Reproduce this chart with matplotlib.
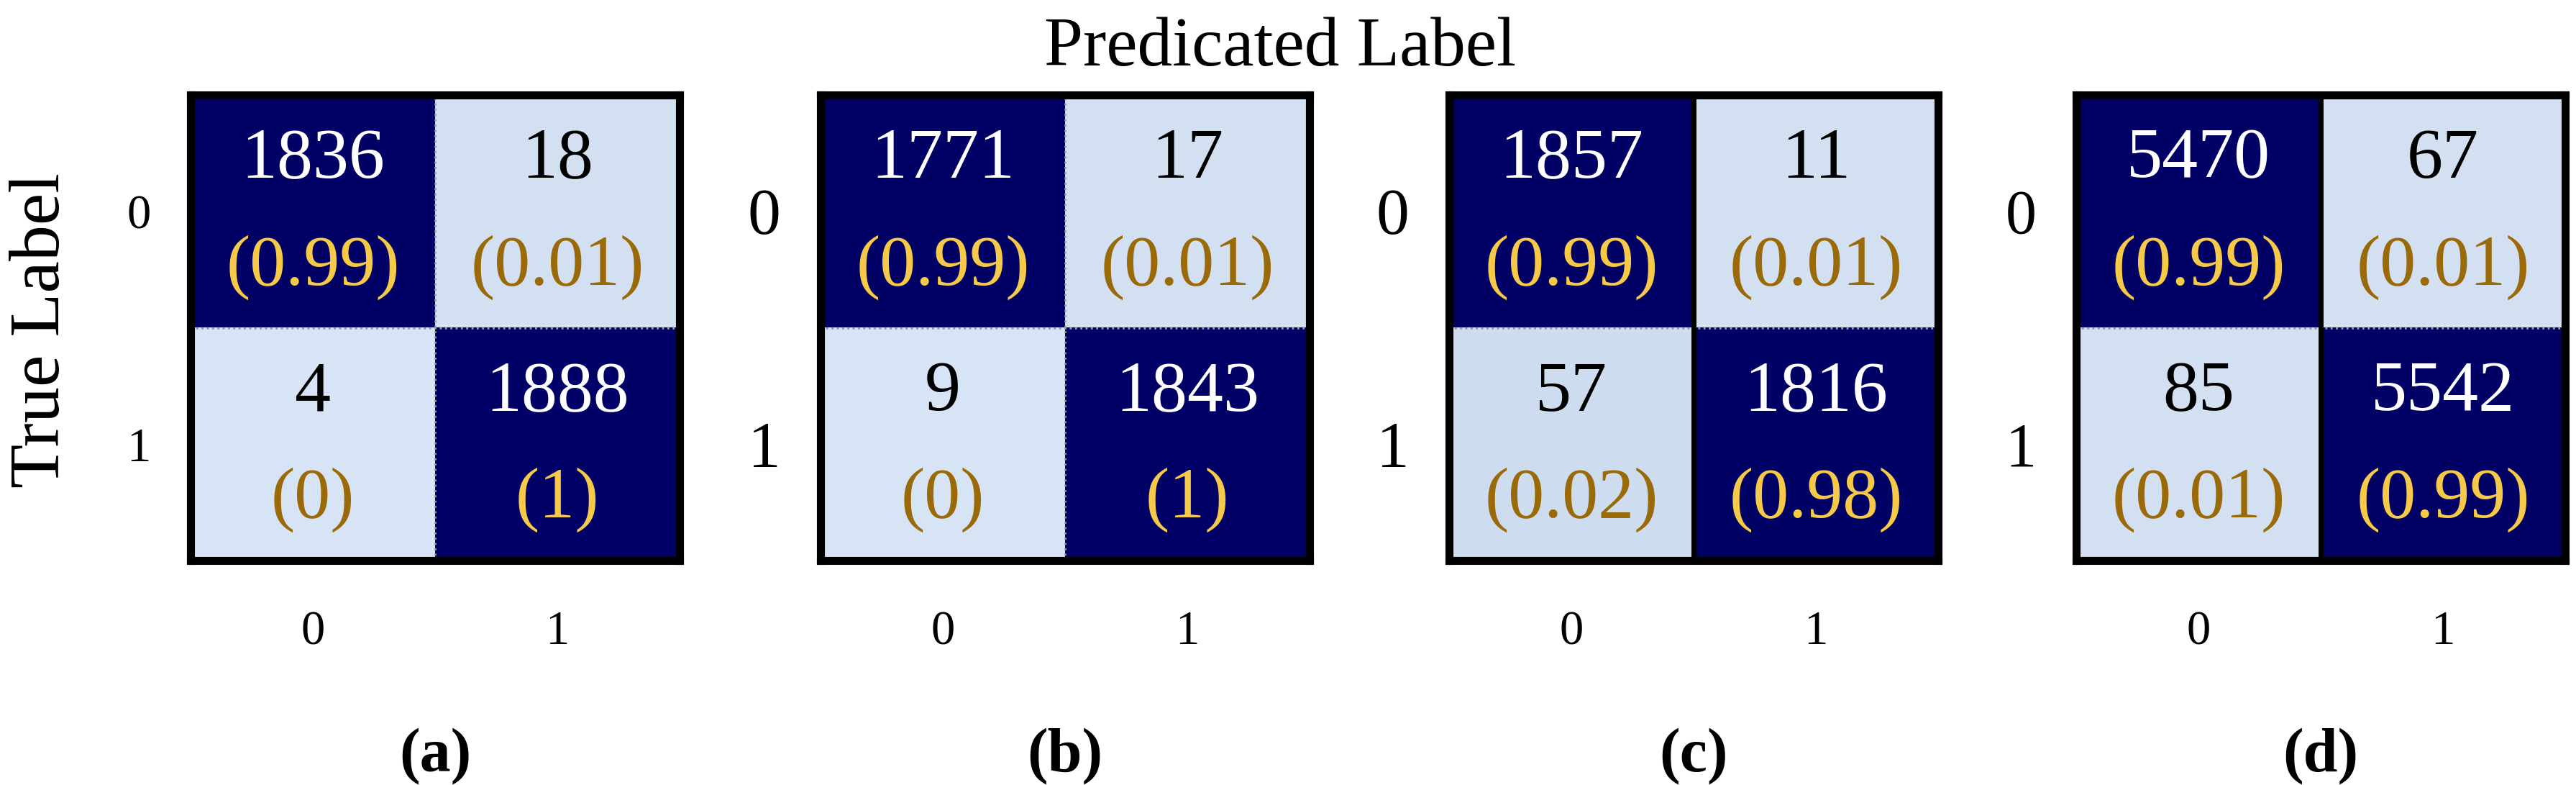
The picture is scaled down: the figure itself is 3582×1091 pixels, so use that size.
import matplotlib
matplotlib.use("Agg")
import matplotlib.pyplot as plt
from matplotlib.colors import LinearSegmentedColormap
import numpy as np

panels = ["(a)", "(b)", "(c)", "(d)"]
counts = [
    [[1836, 18], [4, 1888]],
    [[1771, 17], [9, 1843]],
    [[1857, 11], [57, 1816]],
    [[5470, 67], [85, 5542]],
]
ratios = [
    [["0.99", "0.01"], ["0", "1"]],
    [["0.99", "0.01"], ["0", "1"]],
    [["0.99", "0.01"], ["0.02", "0.98"]],
    [["0.99", "0.01"], ["0.01", "0.99"]],
]
tick_labels = ["0", "1"]

plt.rcParams['font.family'] = ['Liberation Serif', 'DejaVu Serif']
W, H = 3582, 1091
fig = plt.figure(figsize=(W / 100, H / 100), dpi=100)

cmap = LinearSegmentedColormap.from_list("cm", ["#d6e4f5", "#001a5c", "#000066"])
lefts = [265, 1141, 2015, 2887]
width = 680
top, bottom = 132, 779
ytick_sizes = [48, 66, 66, 62]

for i in range(4):
    ax = fig.add_axes([lefts[i] / W, 1 - bottom / H, width / W, (bottom - top) / H])
    c = np.array(counts[i], dtype=float)
    v = np.array([[float(x) for x in r] for r in ratios[i]])
    ax.imshow(v, cmap=cmap, vmin=0, vmax=1, aspect='auto')
    for r in range(2):
        for k in range(2):
            dark = v[r, k] > 0.5
            ax.text(k, r - 0.22, str(counts[i][r][k]), ha='center', va='center',
                    fontsize=72, color='white' if dark else 'black')
            ax.text(k, r + 0.24, f"({ratios[i][r][k]})", ha='center', va='center',
                    fontsize=72, color='#f7c948' if dark else '#9a6a08')
    ax.axhline(0.5, color='#999999', lw=2, ls=':')
    ax.axvline(0.5, color='#999999' if i < 2 else 'black', lw=2 if i < 2 else 5, ls=':' if i < 2 else '-')
    ax.set_xticks([0, 1])
    ax.set_xticklabels(tick_labels, fontsize=48)
    ax.set_yticks([0, 1])
    ax.set_yticklabels(tick_labels, fontsize=ytick_sizes[i])
    ax.tick_params(length=0, pad=40)
    ax.tick_params(axis='x', pad=50)
    for s in ax.spines.values():
        s.set_linewidth(8)
        s.set_color('black')
    ax.text(0.5, -0.42, panels[i], transform=ax.transAxes, ha='center', va='center',
            fontsize=62, fontweight='bold')

fig.text(1780 / W, 1 - 68 / H, "Predicated Label", ha='center', va='center', fontsize=70)
fig.text(58 / W, 1 - 459 / H, "True Label", ha='center', va='center', fontsize=72, rotation=90)

fig.savefig("out.png", dpi=100)
